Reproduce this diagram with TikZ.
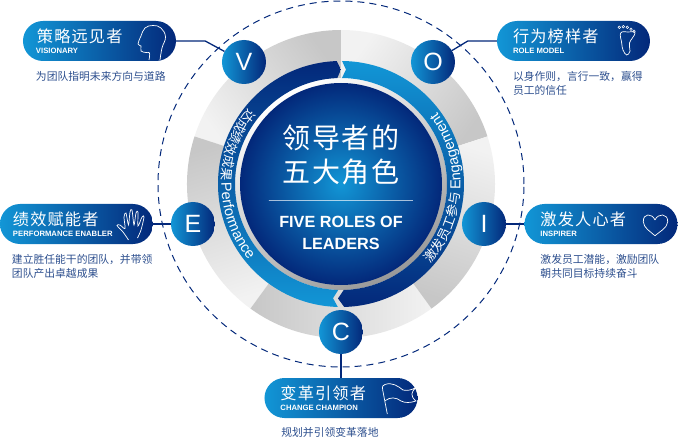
\documentclass[tikz,border=0pt]{standalone}
\usepackage{fontspec}
\usepackage{xcolor}
\setmainfont{Liberation Sans}
\newfontfamily\cjk{Noto Sans CJK SC}
\newfontfamily\cjkwide[LetterSpace=7]{Noto Sans CJK SC}
\usepackage{tikz}
\usetikzlibrary{positioning, decorations.text}
\definecolor{lblue}{HTML}{1296D6}
\definecolor{mblue}{HTML}{0A4F9A}
\definecolor{navy}{HTML}{03287A}
\definecolor{capblue}{HTML}{2D4F8E}
\newcommand{\arccjk}{\cjk\fontsize{13}{14}\selectfont}
\newcommand{\arclat}{\fontsize{14.5}{15}\selectfont}

\begin{document}
\begin{tikzpicture}[
      x=1pt, y=1pt,
      letter/.style={circle, left color=lblue, right color=navy, minimum size=44pt, inner sep=0pt, text=white, font=\fontsize{25}{25}\selectfont},
      pill/.style={rounded corners=20pt, left color=lblue, middle color=mblue, right color=navy, minimum width=153pt, minimum height=40pt, inner sep=0pt},
      pilltitle/.style={anchor=west, inner sep=0pt, text=white, font=\cjkwide\fontsize{16.2}{16}\selectfont},
      pillsub/.style={anchor=west, inner sep=0pt, text=white, font=\bfseries\fontsize{7.7}{8}\selectfont},
      caption/.style={inner sep=0pt, align=left, text=capblue, font=\cjk\fontsize{10.8}{14}\selectfont},
      link/.style={draw=navy, line width=1.3pt},
      icon/.style={shift={(-341,184)}, y=-1pt, draw=white, line width=0.7pt},
      arctext/.style={decorate, decoration={text along path, text color=white, text align=center, #1}}
    ]
    \useasboundingbox (-341,-255) rectangle (337,184);
    \draw[navy, line width=1pt, dash pattern=on 7pt off 5pt] (0,0) circle[radius=183];
    %% grey sectors
    \foreach \a in {18,90,162,234,306} {
      \pgfmathsetmacro{\s}{\a+36-180}
      \path[top color=black!22, bottom color=black!5, shading angle=\s]
        (\a:106) -- (\a:154) arc[start angle=\a, end angle=\a+72, radius=154]
        -- (\a+72:106) arc[start angle=\a+72, end angle=\a, radius=106] -- cycle;
    }
    %% centre disc
    \path[top color=white, bottom color=black!40, shading angle=30] (0,0) circle[radius=106];
    \path[inner color=lblue, outer color=navy] (0,0) circle[radius=101];
    %% blue arcs
    \path[top color=navy, bottom color=lblue]
      (92:123) arc[start angle=92, end angle=268.5, radius=123] -- (266:114.5)
      -- (268.5:106) arc[start angle=268.5, end angle=92, radius=106] -- (90:114.5) -- cycle;
    \path[top color=lblue, bottom color=navy]
      (89.5:123) arc[start angle=89.5, end angle=-88.5, radius=123] -- (-91.5:114.5)
      -- (-88.5:106) arc[start angle=-88.5, end angle=89.5, radius=106] -- (87.5:114.5) -- cycle;
    \path[arctext={text={|\arccjk|达成绩效成果 |\arclat|Performance}}]
      (133:119.5) arc[start angle=133, end angle=227, radius=119.5];
    \path[arctext={text={|\arccjk|激发员工参与 |\arclat|Engagement}}]
      (-52:119.5) arc[start angle=-52, end angle=47, radius=119.5];
    %% centre text
    \node[align=center, text=white, font=\cjkwide\fontsize{28}{34}\selectfont] (maintitle) at (0,29) {领导者的\\五大角色};
    \node[draw=white, line width=0.8pt, minimum width=144pt, minimum height=0pt, inner sep=0pt] (mainrule) at (0,-16) {};
    \node[align=center, text=white, font=\bfseries\fontsize{16.2}{22}\selectfont, below=12pt of mainrule] (subtitle) {FIVE ROLES OF\\LEADERS};
    %% V role
    \node[letter] (v) at (-97,122) {V};
    \node[pill] (vpill) at (-241.5,143) {};
    \node[pilltitle] (vtitle) at ([xshift=14pt,yshift=5pt]vpill.west) {策略远见者};
    \node[pillsub] (vsub) at ([xshift=13pt,yshift=-10pt]vpill.west) {VISIONARY};
    \node[caption, below right=10pt and 13pt of vpill.south west] (vcap) {为团队指明未来方向与道路};
    \draw[link] (vpill.east) -- ++(29,0) -- (v);
    \draw[icon] plot[smooth, tension=0.7] coordinates {(160,60) (162,48) (165.5,37) (161,28) (153,25.5) (145,28) (141,36) (138,44) (141,46) (141,51) (146,52.5) (149.5,53) (149,60)};
    %% O role
    \node[letter] (o) at (92,122) {O};
    \node[pill] (opill) at (232.5,143) {};
    \node[pilltitle] (otitle) at ([xshift=16pt,yshift=5pt]opill.west) {行为榜样者};
    \node[pillsub] (osub) at ([xshift=16pt,yshift=-10pt]opill.west) {ROLE MODEL};
    \node[caption, below right=10pt and 16pt of opill.south west] (ocap) {以身作则，言行一致，赢得\\员工的信任};
    \draw[link] (opill.west) -- ++(-29,0) -- (o);
    \draw[icon] plot[smooth cycle, tension=0.7] coordinates {(620.7,33) (628,32) (635,33) (629.5,43) (630,51) (626.7,55) (623,50) (621.7,43)};
    \foreach \tx/\ty in {619.3/27.3, 623.3/26.7, 627.3/27.3, 631/29.3, 634/31.3} {
      \draw[icon, line width=0.5pt] (\tx,\ty) circle[radius=1.3];
    }
    %% E role
    \node[letter] (e) at (-148,-40) {E};
    \node[pill] (epill) at (-264.5,-40) {};
    \node[pilltitle] (etitle) at ([xshift=13pt,yshift=5pt]epill.west) {绩效赋能者};
    \node[pillsub] (esub) at ([xshift=13pt,yshift=-10pt]epill.west) {PERFORMANCE ENABLER};
    \node[caption, below right=10pt and 12pt of epill.south west] (ecap) {建立胜任能干的团队，并带领\\团队产出卓越成果};
    \draw[link] (epill) -- (e);
    \draw[icon] plot[smooth, tension=0.5] coordinates {(128.5,240) (123,232) (117,225.5) (120,225) (125,228.5) (124,217) (126,213) (128.5,225) (130,212) (132,210) (134,225) (136,213) (138,212) (138,226) (142,217) (144,217) (141,230) (137.5,238)};
    %% I role
    \node[letter] (i) at (143,-40) {I};
    \node[pill] (ipill) at (260,-40) {};
    \node[pilltitle] (ititle) at ([xshift=16pt,yshift=5pt]ipill.west) {激发人心者};
    \node[pillsub] (isub) at ([xshift=16pt,yshift=-10pt]ipill.west) {INSPIRER};
    \node[caption, below right=10pt and 16pt of ipill.south west] (icap) {激发员工潜能，激励团队\\朝共同目标持续奋斗};
    \draw[link] (ipill) -- (i);
    \draw[icon] (655,220) .. controls (652,213) and (643,213) .. (643.3,221.7) .. controls (643.5,228) and (651,232) .. (655,235.7) .. controls (659,232) and (667.5,228) .. (667.7,221.7) .. controls (668,213) and (658,213) .. (655,220);
    %% C role
    \node[letter] (c) at (0,-148) {C};
    \node[pill] (cpill) at (0,-214) {};
    \node[pilltitle] (ctitle) at ([xshift=16pt,yshift=5pt]cpill.west) {变革引领者};
    \node[pillsub] (csub) at ([xshift=16pt,yshift=-10pt]cpill.west) {CHANGE CHAMPION};
    \node[caption, below=9pt of cpill, xshift=-11pt] (ccap) {规划并引领变革落地};
    \draw[link] (c) -- (cpill);
    \draw[icon] (387.3,414) -- (382.7,390) .. controls (382,386) and (383,385) .. (385,384.5) .. controls (392,382) and (398,386) .. (403,390) .. controls (407,391) and (412,390) .. (416,387.5) .. controls (411,392) and (410,396) .. (416,401) .. controls (410,403) and (405,403) .. (401,401) .. controls (396,397) and (390,397) .. (385.5,400.5);
  \end{tikzpicture}
\end{document}
